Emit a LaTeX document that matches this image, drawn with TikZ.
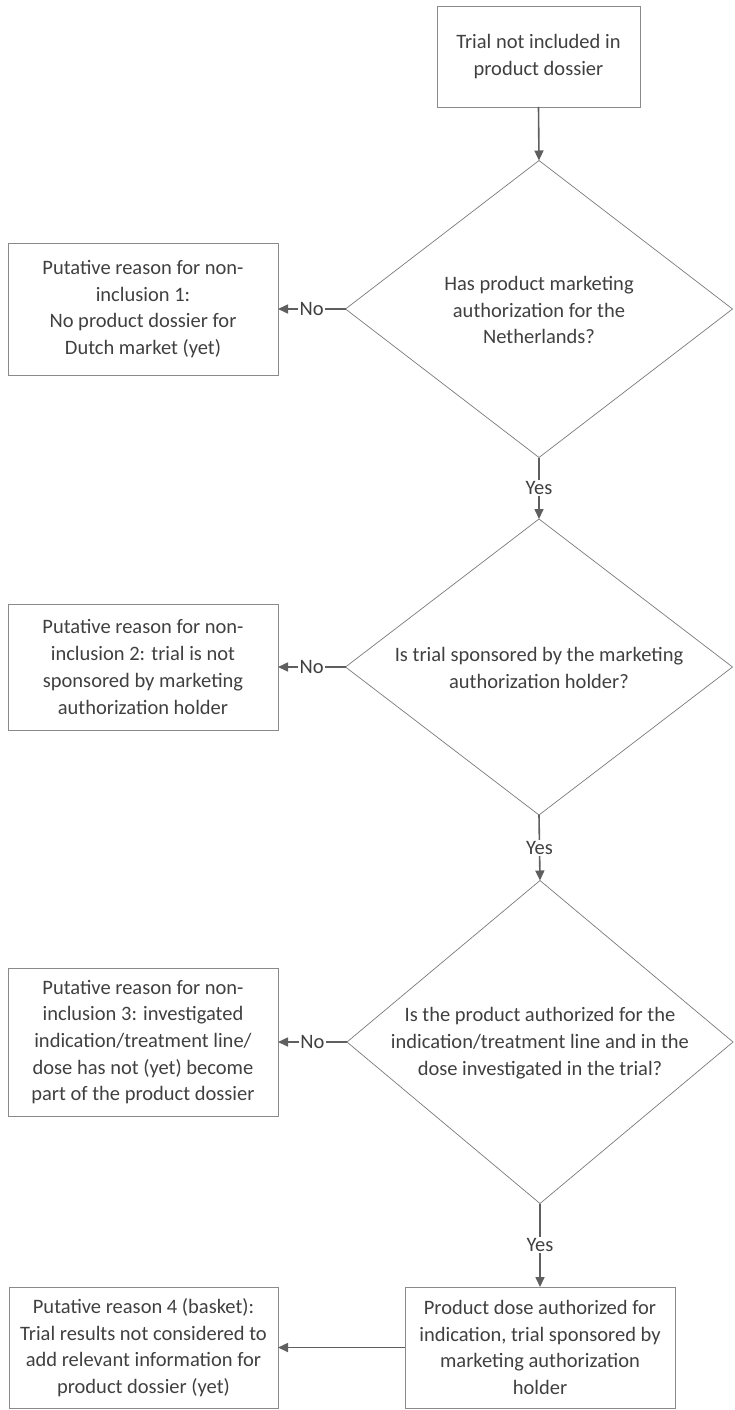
\documentclass[tikz,border=0pt]{standalone}
\usepackage{fontspec}
\setmainfont{Carlito}
\usetikzlibrary{shapes.geometric,arrows.meta}
\definecolor{txt}{HTML}{404040}
\definecolor{boxc}{HTML}{8A8A8A}
\definecolor{dia}{HTML}{7A7A7A}
\definecolor{conn}{HTML}{5F5F5F}
\begin{document}
\begin{tikzpicture}[x=1pt,y=-1pt,
  every node/.style={font=\fontsize{20.5}{26.7}\selectfont, text=txt, outer sep=0pt},
  rbox/.style={draw=boxc, line width=0.9pt, rectangle, inner sep=0pt, align=center},
  dshape/.style={draw=dia, line width=0.7pt, diamond, inner sep=0pt, aspect=1.3},
  dtext/.style={align=center, inner sep=0pt},
  conn/.style={draw=conn, line width=1.6pt, -{Triangle[length=10pt,width=9pt]}},
  lab/.style={fill=white, inner sep=1.5pt}
]
\useasboundingbox (0,0) rectangle (735,1410);

\node[rbox, minimum width=203pt, minimum height=101pt] (top) at (538.5,56.5) {Trial not included in\\product dossier};

\node[dshape, minimum width=387pt, minimum height=297pt] (d1) at (539,309) {};
\node[dtext] (t1) at (539,310) {Has product marketing\\authorization for the\\Netherlands?};
\node[rbox, minimum width=270pt, minimum height=132pt] (b1) at (143,309) {Putative reason for non-\\inclusion 1:\\No product dossier for\\Dutch market (yet)};

\node[dshape, minimum width=387pt, minimum height=296pt] (d2) at (539,667) {};
\node[dtext] (t2) at (539,668) {Is trial sponsored by the marketing\\authorization holder?};
\node[rbox, minimum width=270pt, minimum height=126pt] (b2) at (143,667) {Putative reason for non-\\inclusion 2: trial is not\\sponsored by marketing\\authorization holder};

\node[dshape, minimum width=386pt, minimum height=323pt] (d3) at (540,1042) {};
\node[dtext] (t3) at (540,1043) {Is the product authorized for the\\indication/treatment line and in the\\dose investigated in the trial?};
\node[rbox, minimum width=270pt, minimum height=148pt] (b3) at (143,1042) {Putative reason for non-\\inclusion 3: investigated\\indication/treatment line/\\dose has not (yet) become\\part of the product dossier};

\node[rbox, minimum width=270pt, minimum height=121pt] (b5) at (540,1347.5) {Product dose authorized for\\indication, trial sponsored by\\marketing authorization\\holder};
\node[rbox, minimum width=269pt, minimum height=121pt] (b4) at (143.5,1347.5) {Putative reason 4 (basket):\\Trial results not considered to\\add relevant information for\\product dossier (yet)};

\draw[conn] (top.south) -- (d1.north);
\draw[conn] (d1.west) -- node[lab] (n1) {No} (b1.east);
\draw[conn] (d1.south) -- node[lab] (y1) {Yes} (d2.north);
\draw[conn] (d2.west) -- node[lab] (n2) {No} (b2.east);
\draw[conn] (d2.south) -- node[lab] (y2) {Yes} (d3.north);
\draw[conn] (d3.west) -- node[lab] (n3) {No} (b3.east);
\draw[conn] (d3.south) -- node[lab] (y3) {Yes} (b5.north);
\draw[conn] (b5.west) -- (b4.east);
\end{tikzpicture}
\end{document}
